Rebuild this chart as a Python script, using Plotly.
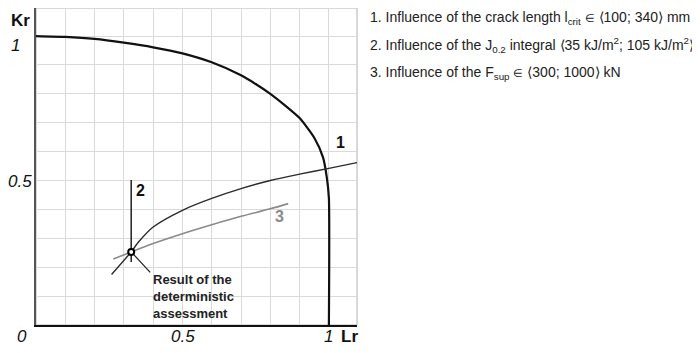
import plotly.graph_objects as go

# failure assessment curve
fad_lr = [0.0, 0.1, 0.2, 0.3, 0.4, 0.5, 0.6, 0.7, 0.75, 0.8, 0.85, 0.9, 0.95, 0.98, 0.993, 1.0, 1.0]
fad_kr = [1.0, 0.997, 0.99, 0.977, 0.961, 0.94, 0.909, 0.864, 0.834, 0.80, 0.76, 0.716, 0.648, 0.58, 0.51, 0.44, 0.0]

# 1 - crack length influence
c1_lr = [0.258, 0.325, 0.35, 0.4, 0.5, 0.6, 0.7, 0.8, 0.9, 1.0, 1.096]
c1_kr = [0.175, 0.253, 0.287, 0.339, 0.397, 0.438, 0.472, 0.500, 0.522, 0.542, 0.562]

# 2 - J0.2 influence (vertical)
c2_lr = [0.325, 0.325]
c2_kr = [0.218, 0.502]

# 3 - force influence
c3_lr = [0.264, 0.325, 0.4, 0.5, 0.6, 0.7, 0.8, 0.861]
c3_kr = [0.228, 0.253, 0.282, 0.316, 0.347, 0.376, 0.402, 0.42]

# deterministic result point and its pointer
det_lr = [0.325]
det_kr = [0.253]
ptr_lr = [0.325, 0.39]
ptr_kr = [0.253, 0.182]

elem = '<span style="font-size:11px">∈</span>'
legend_lines = [
    "1. Influence of the crack length l<sub>crit</sub> " + elem + " ⟨100; 340⟩ mm",
    "2. Influence of the J<sub>0.2</sub> integral ⟨35 kJ/m<sup>2</sup>; 105 kJ/m<sup>2</sup>⟩",
    "3. Influence of the F<sub>sup</sub> " + elem + " ⟨300; 1000⟩ kN",
]

fig = go.Figure()
fig.add_trace(go.Scatter(x=fad_lr, y=fad_kr, mode="lines",
                         line=dict(color="#111111", width=2.2, shape="spline", smoothing=0.6),
                         cliponaxis=False))
fig.add_trace(go.Scatter(x=c1_lr, y=c1_kr, mode="lines",
                         line=dict(color="#2a2a2a", width=1.4, shape="spline", smoothing=0.8)))
fig.add_trace(go.Scatter(x=c3_lr, y=c3_kr, mode="lines",
                         line=dict(color="#8a8a8a", width=1.6, shape="spline", smoothing=0.8)))
fig.add_trace(go.Scatter(x=c2_lr, y=c2_kr, mode="lines", line=dict(color="#111111", width=1.4)))
fig.add_trace(go.Scatter(x=ptr_lr, y=ptr_kr, mode="lines", line=dict(color="#222222", width=1.2)))
fig.add_trace(go.Scatter(x=det_lr, y=det_kr, mode="markers",
                         marker=dict(size=6, color="white", line=dict(color="black", width=2))))

FONT = "Liberation Sans, Arial"
tick_font = dict(family=FONT, size=17, color="#111111")

# axis labels placed by hand (relative to the plot area)
paper_ann = [
    dict(x=-0.065, y=0.881, text="<i>1</i>"),
    dict(x=-0.05, y=0.453, text="<i>0.5</i>"),
    dict(x=-0.047, y=0.962, text="<b>Kr</b>"),
    dict(x=-0.044, y=-0.035, text="<i>0</i>"),
    dict(x=0.458, y=-0.035, text="<i>0.5</i>"),
    dict(x=0.91, y=-0.035, text="<i>1</i>"),
    dict(x=0.978, y=-0.035, text="<b>Lr</b>"),
]
for a in paper_ann:
    fig.add_annotation(xref="paper", yref="paper", showarrow=False, xanchor="center",
                       yanchor="middle", font=tick_font, **a)

data_ann = [
    dict(x=1.038, y=0.631, text="<b>1</b>", font=dict(family=FONT, size=16, color="#111111")),
    dict(x=0.358, y=0.466, text="<b>2</b>", font=dict(family=FONT, size=16, color="#111111")),
    dict(x=0.833, y=0.376, text="<b>3</b>", font=dict(family=FONT, size=16, color="#8a8a8a")),
    dict(x=0.392, y=0.19, text="<b>Result of the<br>deterministic<br>assessment</b>",
         xanchor="left", yanchor="top", align="left",
         font=dict(family=FONT, size=13, color="#222222")),
]
for a in data_ann:
    a.setdefault("xanchor", "center")
    a.setdefault("yanchor", "middle")
    fig.add_annotation(xref="x", yref="y", showarrow=False, **a)

legend_y = [0.969, 0.884, 0.796]
for line, ly in zip(legend_lines, legend_y):
    fig.add_annotation(xref="paper", yref="paper", x=1.034, y=ly,
                       xanchor="left", yanchor="middle", showarrow=False, text=line,
                       font=dict(family=FONT, size=14, color="#222222"))

# grey frame around the plot
fig.add_shape(type="rect", xref="paper", yref="paper", x0=0, y0=0, x1=1, y1=1,
              line=dict(color="#cccccc", width=1.5), layer="below")

# page has an 8px body margin, so the figure is a bit smaller and shifted
fig.update_layout(
    width=692, height=345,
    margin=dict(l=28, r=343, t=0, b=28),
    plot_bgcolor="white", paper_bgcolor="white",
    showlegend=False,
    xaxis=dict(range=[0, 1.096], tick0=0, dtick=0.1, showticklabels=False, ticks="",
               showgrid=True, gridcolor="#dadada", gridwidth=1.3, zeroline=False,
               showline=True, linecolor="#111111", linewidth=2),
    yaxis=dict(range=[0, 1.097], tick0=0, dtick=0.1, showticklabels=False, ticks="",
               showgrid=True, gridcolor="#dadada", gridwidth=1.3, zeroline=False,
               showline=True, linecolor="#555555", linewidth=1.5),
)

fig.write_html("out.html")
